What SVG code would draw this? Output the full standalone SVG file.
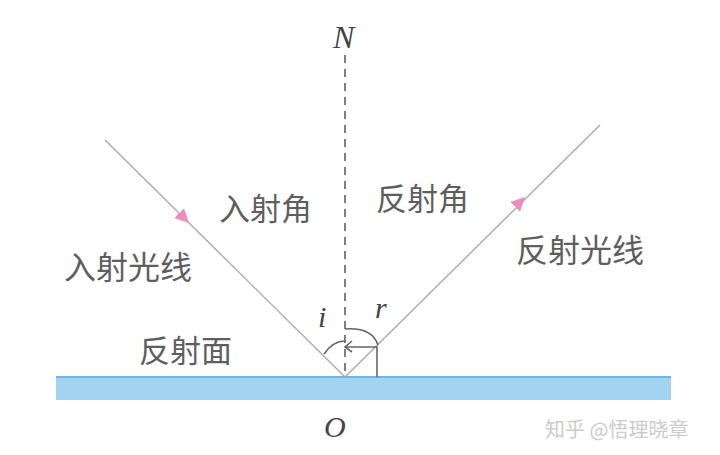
<svg xmlns="http://www.w3.org/2000/svg" width="720" height="455" viewBox="0 0 720 455">
<style>
.cjk{font-family:"Liberation Sans","Noto Sans CJK SC",sans-serif;fill:#5e5e5e;font-size:31px}
.it{font-family:"Liberation Serif",serif;font-style:italic;fill:#444}
.ray{stroke:#aaa;stroke-width:1.4;fill:none}
.thin{stroke:#666;stroke-width:1.6;fill:none}
</style>
<defs>
<marker id="ah" viewBox="0 0 10 10" refX="5" refY="5" markerWidth="14" markerHeight="14" markerUnits="userSpaceOnUse" orient="auto">
<path d="M0,0 L10,5 L0,10 z" fill="#ee8cbc"/>
</marker>
</defs>
<rect width="720" height="455" fill="#fff"/>
<g id="surface">
<rect x="56" y="376" width="615" height="24" fill="#a2d3f0"/>
<line x1="56" y1="377" x2="671" y2="377" stroke="#6fb5e2" stroke-width="2"/>
</g>
<g id="connectors">
<line id="normal" x1="345" y1="55" x2="345" y2="377" stroke="#555" stroke-width="1.5" stroke-dasharray="8,6"/>
<line class="ray" x1="105" y1="140" x2="345" y2="377" stroke="#c0aab6"/>
<line class="ray" x1="345" y1="377" x2="600" y2="125"/>
<line x1="170" y1="204" x2="184" y2="218" stroke="none" marker-end="url(#ah)"/>
<line x1="505" y1="217" x2="520" y2="202" stroke="none" marker-end="url(#ah)"/>
<path class="thin" d="M324,354 Q333,341 345,341"/>
<path class="thin" d="M352,341 L345,347 L352,352"/>
<path class="thin" d="M345,347 L377,347 L377,377"/>
<path class="thin" d="M345,329 Q372,327 378,345"/>
</g>
<g id="labels">
<text class="cjk" x="219" y="220">入射角</text>
<text class="cjk" x="376" y="210">反射角</text>
<text class="cjk" x="64" y="279" style="font-size:32px">入射光线</text>
<text class="cjk" x="516" y="262" style="font-size:32px">反射光线</text>
<text class="cjk" x="139" y="362">反射面</text>
<text class="it" x="333" y="48" font-size="32">N</text>
<text class="it" x="324" y="437" font-size="30">O</text>
<text class="it" x="318" y="327" font-size="30">i</text>
<text class="it" x="375" y="318" font-size="30">r</text>
<text x="545" y="437" font-family="'Noto Sans CJK SC',sans-serif" font-size="20" fill="#ccc">知乎 @悟理晓章</text>
</g>
</svg>
